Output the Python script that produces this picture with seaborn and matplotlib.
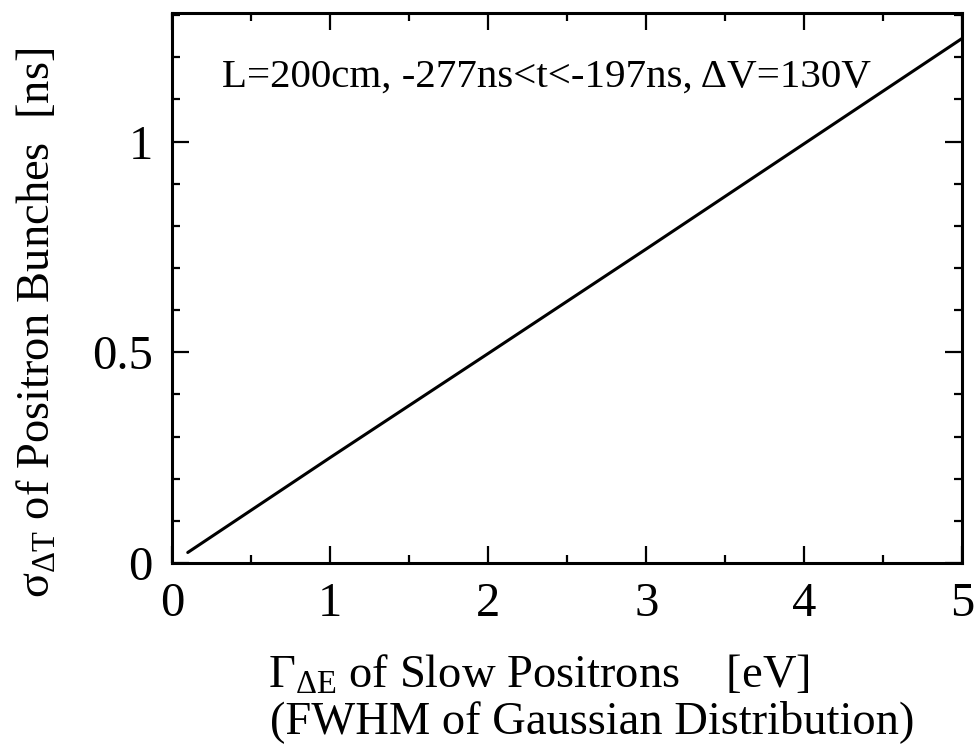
import matplotlib
matplotlib.use("Agg")
import matplotlib.pyplot as plt
import seaborn as sns
import pandas as pd
from matplotlib.ticker import MultipleLocator

# Data
gamma_eV = [0.1, 1.0, 2.0, 3.0, 4.0, 5.0]
sigma_ns = [0.025, 0.25, 0.497, 0.745, 0.995, 1.245]
annotation = "L=200cm, -277ns<t<-197ns, ΔV=130V"
x_ticks = [0, 1, 2, 3, 4, 5]
y_ticks = [0, 0.5, 1]
y_tick_labels = ["0", "0.5", "1"]

sns.set_style("ticks")
plt.rcParams["font.family"] = ["Liberation Serif", "DejaVu Serif"]
plt.rcParams["mathtext.fontset"] = "custom"
plt.rcParams["mathtext.rm"] = "Liberation Serif"
plt.rcParams["mathtext.it"] = "Liberation Serif:italic"
plt.rcParams["mathtext.bf"] = "Liberation Serif:bold"
for k in ["text.color", "axes.labelcolor", "xtick.color", "ytick.color", "axes.edgecolor"]:
    plt.rcParams[k] = "black"

df = pd.DataFrame({"gamma": gamma_eV, "sigma": sigma_ns})

fig = plt.figure(figsize=(9.77, 7.5), dpi=100)
ax = fig.add_axes([0.176, 0.2493, 0.809, 0.7334])
sns.lineplot(data=df, x="gamma", y="sigma", ax=ax, color="black", linewidth=2.2)

ax.set_xlim(0, 5)
ax.set_ylim(0, 1.305)
ax.set_xticks(x_ticks)
ax.set_xticklabels([str(t) for t in x_ticks])
ax.set_yticks(y_ticks)
ax.set_yticklabels(y_tick_labels)
ax.xaxis.set_minor_locator(MultipleLocator(0.5))
ax.yaxis.set_minor_locator(MultipleLocator(0.1))
ax.tick_params(which="both", direction="in", top=True, right=True, colors="black",
               width=1.6, labelsize=35, pad=14)
ax.tick_params(which="major", length=12)
ax.tick_params(which="minor", length=6)
for s in ax.spines.values():
    s.set_linewidth(2.2)
    s.set_color("black")

ax.set_xlabel("")
ax.set_ylabel(r"σ$_{\mathrm{\Delta T}}$ of Positron Bunches  [ns]", fontsize=33.5)
ax.yaxis.set_label_coords(-0.142, 0.436)

fig.text(0.2743, 0.0827, r"Γ$_{\mathrm{\Delta E}}$ of Slow Positrons    [eV]", fontsize=33.5,
         ha="left", va="baseline")
fig.text(0.2764, 0.0227, "(FWHM of Gaussian Distribution)", fontsize=33.5,
         ha="left", va="baseline")

ax.text(0.063, 0.8655, annotation, transform=ax.transAxes, fontsize=29.5,
        ha="left", va="baseline")

fig.savefig("out.png", dpi=100)
